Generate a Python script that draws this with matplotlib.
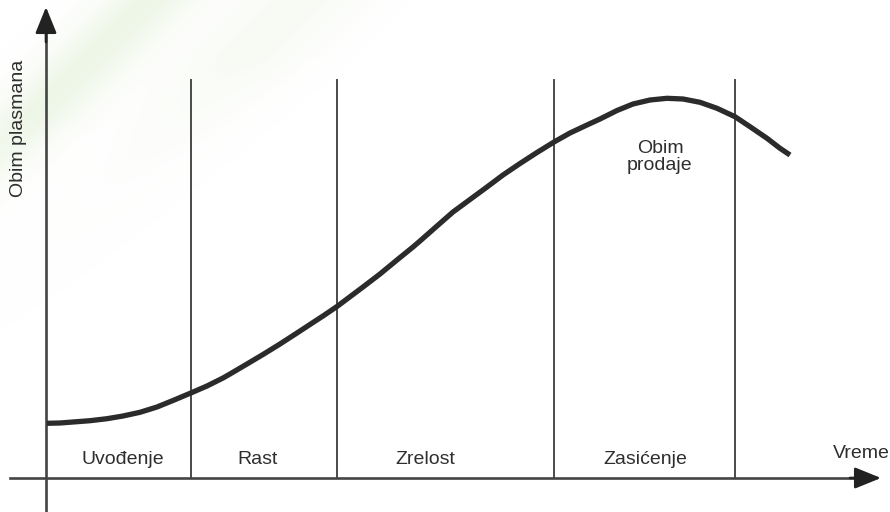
import numpy as np
import matplotlib
matplotlib.use("Agg")
import matplotlib.pyplot as plt

plt.rcParams['font.family'] = ['Liberation Sans', 'DejaVu Sans']

# ---- data (time units on x, sales volume on y) ----
curve_t = [47, 60, 73, 90, 107, 123, 140, 157, 173, 192, 207, 223, 230, 247,
           263, 280, 297, 313, 323, 337, 363, 380, 397, 413, 420, 437, 453,
           470, 487, 503, 520, 537, 554, 570, 587, 600, 617, 633, 650, 667,
           683, 700, 717, 735, 750, 767, 780, 790]
curve_v = [88.7, 89, 90, 91.3, 93.3, 96, 99.7, 105, 111.5, 119.5, 126, 134,
           138, 148, 157.5, 168, 179, 189.5, 196, 205.5, 225, 238, 252, 265,
           271, 286, 300, 312.5, 325, 337, 348.5, 359.5, 370, 379, 387, 393,
           401.5, 408, 412, 413.7, 413, 409.7, 403.7, 395.3, 385.3, 373.7,
           363.7, 357]
phase_bounds = [191, 337, 554, 735]
phase_labels = ["Uvođenje", "Rast", "Zrelost", "Zasićenje"]
phase_label_x = [123, 258, 425, 645]
x_label = "Vreme"
y_label = "Obim plasmana"
curve_label = "Obim\nprodaje"

W, H = 890, 512
fig = plt.figure(figsize=(W / 100, H / 100), dpi=100)
ax = fig.add_axes([0, 0, 1, 1])
ax.set_xlim(0, W)
ax.set_ylim(0, H)
ax.axis('off')

# faint green background streaks (top-left decoration)
yy, xx = np.mgrid[0:H, 0:W]
ytop = H - yy
d1 = xx + ytop - 150
d2 = xx + ytop - 300
fade = np.exp(-np.clip(ytop - 120, 0, None) / 120.0)
band = 0.55 * np.exp(-(d1 / 45.0) ** 2) * fade + \
       0.25 * np.exp(-(d2 / 60.0) ** 2) * np.exp(-np.clip(ytop - 60, 0, None) / 80.0)
img = np.ones((H, W, 4))
img[..., 0] = 0.80
img[..., 1] = 0.90
img[..., 2] = 0.72
img[..., 3] = np.clip(band, 0, 1) * 0.6
ax.imshow(img, extent=[0, W, 0, H], origin='lower', zorder=0, aspect='auto')

line_c = '#444444'
axis_y0 = 34      # x-axis height
axis_x0 = 46      # y-axis position

# phase boundaries
for b in phase_bounds:
    ax.plot([b, b], [axis_y0, 432], color='#4a4a4a', lw=1.4, zorder=2)

# axes with arrows
ax.plot([10, 860], [axis_y0, axis_y0], color=line_c, lw=1.9, zorder=3)
ax.plot([axis_x0, axis_x0], [1, 485], color=line_c, lw=1.9, zorder=3)
ax.annotate('', xy=(881, axis_y0), xytext=(850, axis_y0),
            arrowprops=dict(arrowstyle='-|>,head_length=1.6,head_width=0.65',
                            color='#222222', lw=1.9, shrinkA=0, shrinkB=0), zorder=4)
ax.annotate('', xy=(axis_x0, 505), xytext=(axis_x0, 470),
            arrowprops=dict(arrowstyle='-|>,head_length=1.6,head_width=0.65',
                            color='#222222', lw=1.9, shrinkA=0, shrinkB=0), zorder=4)

# sales curve
ax.plot(curve_t, curve_v, color='#2b2b2b', lw=3.8, solid_capstyle='butt',
        solid_joinstyle='round', zorder=5)

# labels
txt_c = '#2e2e2e'
for lab, lx in zip(phase_labels, phase_label_x):
    ax.text(lx, 52, lab, ha='center', va='center', fontsize=14, color=txt_c)
ax.text(861, 58, x_label, ha='center', va='center', fontsize=14, color=txt_c)
ax.text(19, 384, y_label, ha='center', va='center', rotation=90,
        fontsize=14, color=txt_c)
ax.text(660, 355, curve_label, ha='center', va='center', fontsize=14,
        color=txt_c, linespacing=1.05)

fig.savefig('out.png', dpi=100)
